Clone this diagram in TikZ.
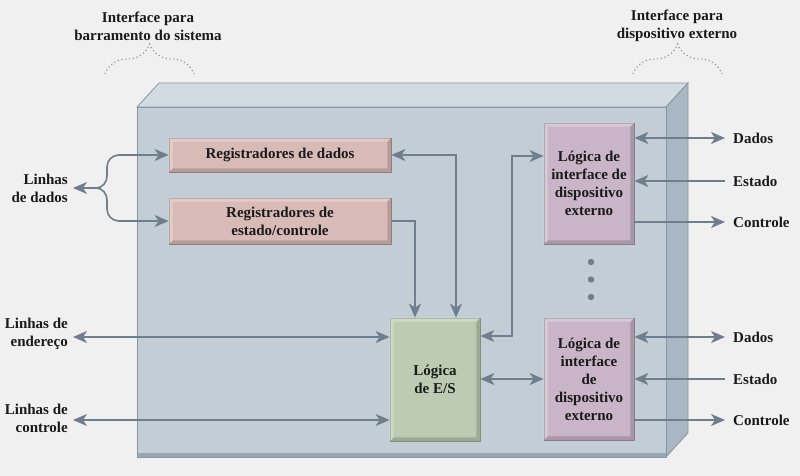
\documentclass[tikz,border=0pt]{standalone}
\usepackage{fontspec}
\setmainfont{Liberation Serif}
\usetikzlibrary{arrows.meta,calc,decorations.pathreplacing}
\definecolor{bg}{HTML}{F0F0F0}
\definecolor{front}{HTML}{C3CDD6}
\definecolor{topf}{HTML}{D3DBE2}
\definecolor{sidef}{HTML}{A9B6C3}
\definecolor{edgec}{HTML}{8797A6}
\definecolor{reg}{HTML}{D8BAB7}
\definecolor{regd}{HTML}{9C8581}
\definecolor{ifc}{HTML}{C9B5C7}
\definecolor{ifcd}{HTML}{958494}
\definecolor{es}{HTML}{BDCBB2}
\definecolor{esd}{HTML}{8A9981}
\definecolor{arrc}{HTML}{6F7E8C}
\definecolor{txt}{HTML}{1A1A1A}
\newcommand\mybevel[1]{%
 \fill[black, opacity=.16] (#1.north east) -- (#1.south east) -- (#1.south west) -- ($(#1.south west)+(4,-4)$) -- ($(#1.south east)+(-4,-4)$) -- ($(#1.north east)+(-4,4)$) -- cycle;
 \fill[white, opacity=.28] (#1.north west) -- (#1.north east) -- ($(#1.north east)+(-4,4)$) -- ($(#1.north west)+(4,4)$) -- ($(#1.south west)+(4,-4)$) -- (#1.south west) -- cycle;
}
\newcommand\boxfont{\fontsize{15}{18}\selectfont\bfseries}
\begin{document}
\begin{tikzpicture}[x=1pt,y=-1pt,
  >={Stealth[length=14pt,width=12pt,inset=4pt]},
  conn/.style={draw=arrc, line width=1.6pt},
  blk/.style={line width=.8pt, inner sep=0pt, align=center, text=txt, font=\boxfont},
  regbox/.style={blk, fill=reg, draw=regd},
  ifcbox/.style={blk, fill=ifc, draw=ifcd, minimum width=90, },
  esbox/.style={blk, fill=es, draw=esd},
  lbl/.style={inner sep=0pt, text=txt, font=\boxfont},
  braced/.style={decorate, decoration={brace, amplitude=30pt}, draw=gray!85, line width=1.1pt, dash pattern=on 1.2pt off 2.6pt}]
\useasboundingbox (0,0) rectangle (800,476);
\fill[bg] (0,0) rectangle (800,476);
% 3D housing
\filldraw[fill=topf, draw=edgec, line width=.8pt] (137,107) -- (159,83) -- (688,83) -- (666,107) -- cycle;
\filldraw[fill=sidef, draw=edgec, line width=.8pt] (666,107) -- (688,83) -- (688,433) -- (666,457) -- cycle;
\filldraw[fill=front, draw=edgec, line width=.8pt] (137,107) rectangle (666,457);
\fill[edgec!85] (137.5,453) rectangle (665.5,457);
% top labels
\node[lbl, align=center] (t1) at (148,26) {Interface para\\barramento do sistema};
\node[lbl, align=center] (t2) at (677,26) {Interface para\\dispositivo externo};
\draw[braced] (105,74) -- (194,74);
\draw[braced] (633,74) -- (722,74);
% blocks
\node[regbox, minimum width=222, minimum height=34] (rd) at (280,155) {Registradores de dados};
\node[regbox, minimum width=222, minimum height=46] (re) at (280,221) {Registradores de\\estado/controle};
\node[esbox, minimum width=90, minimum height=123] (es) at (435,379.5) {L\'ogica\\de E/S};
\node[ifcbox, minimum height=121] (i1) at (589,183.5) {L\'ogica de\\interface de\\dispositivo\\externo};
\node[ifcbox, minimum height=122] (i2) at (589,379) {L\'ogica de\\interface\\de\\dispositivo\\externo};
\mybevel{rd}\mybevel{re}\mybevel{es}\mybevel{i1}\mybevel{i2}
% dots
\fill[arrc] (591,262) circle (3.2pt);
\fill[arrc] (591,279.5) circle (3.2pt);
\fill[arrc] (591,297) circle (3.2pt);
% left labels
\node[lbl, align=right, anchor=east] (ld) at (68,188) {Linhas\\de dados};
\node[lbl, align=right, anchor=east] (le) at (68,334) {Linhas de\\endere\c{c}o};
\node[lbl, align=right, anchor=east] (lc) at (68,418) {Linhas de\\controle};
\coordinate (j) at (96,188);
\coordinate (pe) at (73,337);
\coordinate (pc) at (73,420);
\draw[conn,->] (j) -- ([xshift=5pt]ld.east);
\draw[conn,->] (j) to[out=0,in=-90] (107,176) -- (107,167) to[out=90,in=180] (119,155) -- (rd.west);
\draw[conn,->] (j) to[out=0,in=90] (107,200) -- (107,209) to[out=-90,in=180] (119,221) -- (re.west);
\draw[conn,<->] (pe) -- (es.west |- pe);
\draw[conn,<->] (pc) -- (es.west |- pc);
% internal connections
\draw[conn,<->] (rd.east) -| ($(es.north)+(21,0)$);
\draw[conn,->] (re.east) -| ($(es.north)+(-20,0)$);
\coordinate (y156) at (0,156);
\coordinate (y336) at (0,336);
\draw[conn,<->] (i1.west |- y156) -| (512,336) -- (es.east |- y336);
\draw[conn,<->] (es.east |- i2.west) -- (i2.west);
% right side labels
\node[lbl, anchor=west] (d1) at (733,138) {Dados};
\node[lbl, anchor=west] (s1) at (733,181) {Estado};
\node[lbl, anchor=west] (c1) at (733,222) {Controle};
\node[lbl, anchor=west] (d2) at (733,337) {Dados};
\node[lbl, anchor=west] (s2) at (733,379) {Estado};
\node[lbl, anchor=west] (c2) at (733,420) {Controle};
\draw[conn,<->] (i1.east |- d1) -- ([xshift=-8pt]d1.west);
\draw[conn,<-] (i1.east |- s1) -- ([xshift=-8pt]s1.west);
\draw[conn,->] (i1.east |- c1) -- ([xshift=-8pt]c1.west);
\draw[conn,<->] (i2.east |- d2) -- ([xshift=-8pt]d2.west);
\draw[conn,<-] (i2.east |- s2) -- ([xshift=-8pt]s2.west);
\draw[conn,->] (i2.east |- c2) -- ([xshift=-8pt]c2.west);
\end{tikzpicture}
\end{document}
